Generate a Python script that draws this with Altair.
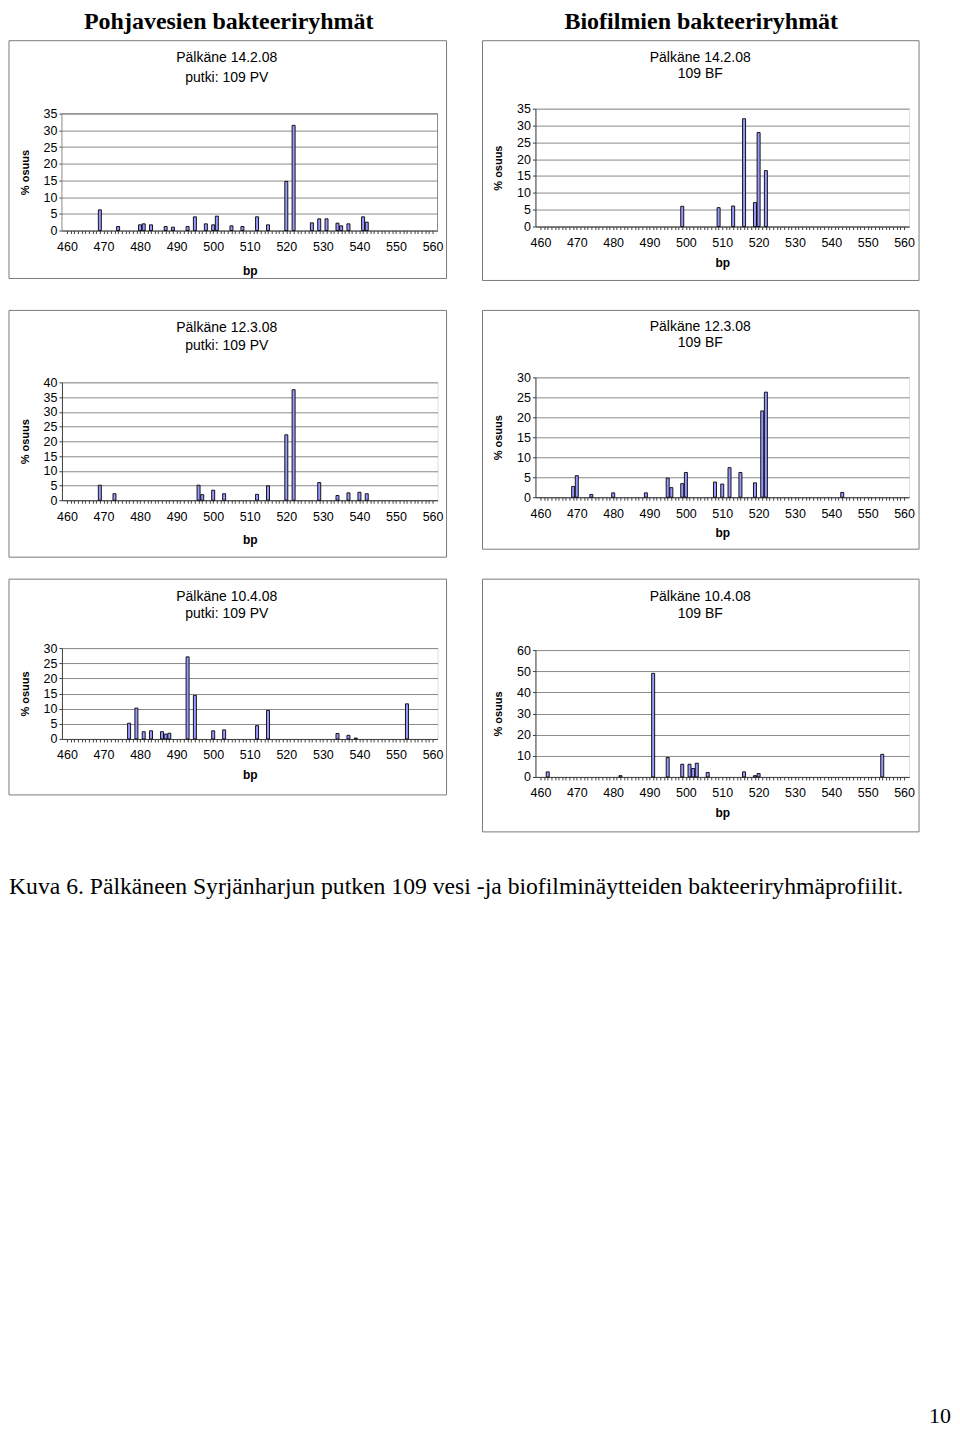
import altair as alt
import pandas as pd

SANS = "Liberation Sans"
SERIF = "Liberation Serif"

HEADERS = ["Pohjavesien bakteeriryhmät", "Biofilmien bakteeriryhmät"]
CAPTION = "Kuva 6. Pälkäneen Syrjänharjun putken 109 vesi -ja biofilminäytteiden bakteeriryhmäprofiilit."
PAGE_NO = "10"
Y_TITLE = "% osuus"
X_TITLE = "bp"
X_DOMAIN = [460, 560]
X_CATEGORIES = list(range(460, 561))

# Panel 1: Pälkäne 14.2.08, putki 109 PV
P1_TITLE = ["Pälkäne 14.2.08", "putki: 109   PV"]
P1_BP = [469, 474, 480, 481, 483, 487, 489, 493, 495, 498, 500, 501, 505,
         508, 512, 515, 520, 522, 527, 529, 531, 534, 535, 537, 541, 542]
P1_PCT = [6.2, 1.2, 1.7, 2.0, 1.7, 1.2, 1.0, 1.2, 4.1, 2.0, 1.7, 4.3, 1.4,
          1.2, 4.1, 1.7, 14.7, 31.5, 2.3, 3.5, 3.5, 2.2, 1.4, 2.0, 4.1, 2.5]
P1_YTICKS = [0, 5, 10, 15, 20, 25, 30, 35]

# Panel 2: Pälkäne 14.2.08, 109 BF
P2_TITLE = ["Pälkäne 14.2.08", "109   BF"]
P2_BP = [499, 509, 513, 516, 519, 520, 522]
P2_PCT = [6.0, 5.6, 6.1, 32.0, 7.1, 27.9, 16.6]
P2_YTICKS = [0, 5, 10, 15, 20, 25, 30, 35]

# Panel 3: Pälkäne 12.3.08, putki 109 PV
P3_TITLE = ["Pälkäne 12.3.08", "putki: 109   PV"]
P3_BP = [469, 473, 496, 497, 500, 503, 512, 515, 520, 522, 529, 534, 537, 540, 542]
P3_PCT = [5.1, 2.2, 5.1, 1.9, 3.4, 2.2, 2.0, 4.9, 22.2, 37.5, 6.0, 1.6, 2.5, 2.7, 2.2]
P3_YTICKS = [0, 5, 10, 15, 20, 25, 30, 35, 40]

# Panel 4: Pälkäne 12.3.08, 109 BF
P4_TITLE = ["Pälkäne 12.3.08", "109   BF"]
P4_BP = [469, 470, 474, 480, 489, 495, 496, 499, 500, 508, 510, 512, 515,
         519, 521, 522, 543]
P4_PCT = [2.7, 5.4, 0.7, 1.1, 1.1, 4.8, 2.4, 3.4, 6.2, 3.8, 3.3, 7.4, 6.2,
          3.6, 21.6, 26.3, 1.2]
P4_YTICKS = [0, 5, 10, 15, 20, 25, 30]

# Panel 5: Pälkäne 10.4.08, putki 109 PV
P5_TITLE = ["Pälkäne 10.4.08", "putki: 109   PV"]
P5_BP = [477, 479, 481, 483, 486, 487, 488, 493, 495, 500, 503, 512, 515,
         534, 537, 539, 553]
P5_PCT = [5.2, 10.2, 2.4, 2.7, 2.4, 1.6, 1.9, 27.1, 14.4, 2.7, 3.0, 4.4, 9.4,
          1.8, 1.2, 0.3, 11.6]
P5_YTICKS = [0, 5, 10, 15, 20, 25, 30]

# Panel 6: Pälkäne 10.4.08, 109 BF
P6_TITLE = ["Pälkäne 10.4.08", "109   BF"]
P6_BP = [462, 482, 491, 495, 499, 501, 502, 503, 506, 516, 519, 520, 554]
P6_PCT = [2.4, 0.6, 49.0, 9.2, 6.0, 6.0, 4.0, 6.5, 2.1, 2.4, 0.6, 1.6, 10.7]
P6_YTICKS = [0, 10, 20, 30, 40, 50, 60]

GRID = "#8a8a8a"
AXIS = "#404040"


def one_row():
    return pd.DataFrame({"k": [0]})


def text_layer(txt, x, y, size, font=SANS, weight="normal", align="center", baseline="middle"):
    return alt.Chart(one_row()).mark_text(
        font=font, fontSize=size, fontWeight=weight, align=align,
        baseline=baseline, color="black", clip=False
    ).encode(x=alt.value(x), y=alt.value(y), text=alt.value(txt))


def rect_layer(x0, x1, y0, y1, color, width=1):
    return alt.Chart(one_row()).mark_rect(
        fillOpacity=0, stroke=color, strokeWidth=width, clip=False
    ).encode(x=alt.value(x0), x2=alt.value(x1), y=alt.value(y0), y2=alt.value(y1))


def panel(title, bp, pct, yticks, w, h, frame, title_x, title_y, xtitle_y, ytitle_x, pad_top=0):
    """pad_top: extra empty strip above the top gridline inside the view."""
    fx0, fx1, fy0, fy1 = frame
    box = rect_layer(fx0, fx1, fy0, fy1, "#7a7a7a")
    t1 = text_layer(title[0], title_x, title_y[0], 14)
    t2 = text_layer(title[1], title_x, title_y[1], 14)
    full_h = h + pad_top
    ytop = yticks[-1] * full_h / h
    df = pd.DataFrame({"bp": bp, "pct": pct})
    bars = alt.Chart(df).mark_bar(
        size=3.0, fill="#9999ff", stroke="#000000", strokeWidth=0.9
    ).encode(
        x=alt.X("bp:Q",
                scale=alt.Scale(domain=X_DOMAIN, nice=False, zero=False),
                axis=alt.Axis(values=X_CATEGORIES,
                              labelExpr="datum.value % 10 === 0 ? datum.label : ''",
                              labelOverlap=False, labelFlush=False, grid=False,
                              tickSize=3, tickColor=AXIS, domainColor=AXIS,
                              labelPadding=7, labelFontSize=12.5, labelColor="black",
                              title=X_TITLE, titleFontWeight="bold", titleFontSize=12,
                              titleY=xtitle_y, titleBaseline="middle")),
        y=alt.Y("pct:Q",
                scale=alt.Scale(domain=[0, ytop], nice=False),
                axis=alt.Axis(values=yticks, grid=True, gridColor=GRID,
                              tickSize=3, tickColor=AXIS, domainColor=AXIS,
                              domain=(pad_top == 0),
                              labelPadding=2, labelFontSize=12.5, labelColor="black",
                              title=Y_TITLE, titleFontWeight="bold", titleFontSize=11,
                              titleX=ytitle_x, titleY=pad_top + h / 2, titleAngle=270,
                              titleAlign="center", titleBaseline="middle")),
    )
    layers = [box, t1, t2]
    props = dict(width=w, height=full_h)
    if pad_top > 0:
        layers.append(rect_layer(0, w, pad_top, full_h, GRID))
        props["view"] = alt.ViewBackground(stroke="transparent")
    layers.append(bars)
    return alt.layer(*layers).properties(**props)


# positions are relative to each panel's plot origin
p1 = panel(P1_TITLE, P1_BP, P1_PCT, P1_YTICKS, 376, 117, (-53, 385, -68, 170), 165, (-51, -31), 40, -36, pad_top=5)
p2 = panel(P2_TITLE, P2_BP, P2_PCT, P2_YTICKS, 374, 118, (-53, 384, -68, 172), 165, (-51, -35), 36, -37)
p3 = panel(P3_TITLE, P3_BP, P3_PCT, P3_YTICKS, 376, 118, (-53, 385, -72, 175), 165, (-54, -36), 39, -36)
p4 = panel(P4_TITLE, P4_BP, P4_PCT, P4_YTICKS, 374, 120, (-53, 384, -67, 172), 165, (-50, -34), 35, -37)
p5 = panel(P5_TITLE, P5_BP, P5_PCT, P5_YTICKS, 376, 91, (-53, 385, -69, 147), 165, (-51, -34), 36, -36)
p6 = panel(P6_TITLE, P6_BP, P6_PCT, P6_YTICKS, 374, 127, (-53, 384, -71, 182), 165, (-53, -36), 36, -37)

left_col = alt.vconcat(p1, alt.vconcat(p3, p5, spacing=20), spacing=30)
right_col = alt.vconcat(p2, p4, p6, spacing=28)
row = alt.hconcat(left_col, right_col, spacing=34)

header = alt.layer(
    text_layer(HEADERS[0], 167, 0, 24, font=SERIF, weight="bold", baseline="top"),
    text_layer(HEADERS[1], 640, 0, 24, font=SERIF, weight="bold", baseline="top"),
).properties(width=1, height=18, view=alt.ViewBackground(stroke="transparent"))

footer = alt.layer(
    text_layer(CAPTION, -53, 0, 23.7, font=SERIF, align="left", baseline="top"),
    text_layer(PAGE_NO, 890, 542, 22, font=SERIF, align="right", baseline="middle"),
).properties(width=1, height=1, view=alt.ViewBackground(stroke="transparent"))

chart = alt.vconcat(
    alt.vconcat(header, row, spacing=5),
    footer,
    spacing=41,
).properties(
    padding=0
).configure_view(
    stroke="#808080"
).configure_axis(
    labelFont=SANS, titleFont=SANS, titleColor="black"
).configure(background="white")

chart.save("out.html", embed_options={"renderer": "svg", "actions": False})
